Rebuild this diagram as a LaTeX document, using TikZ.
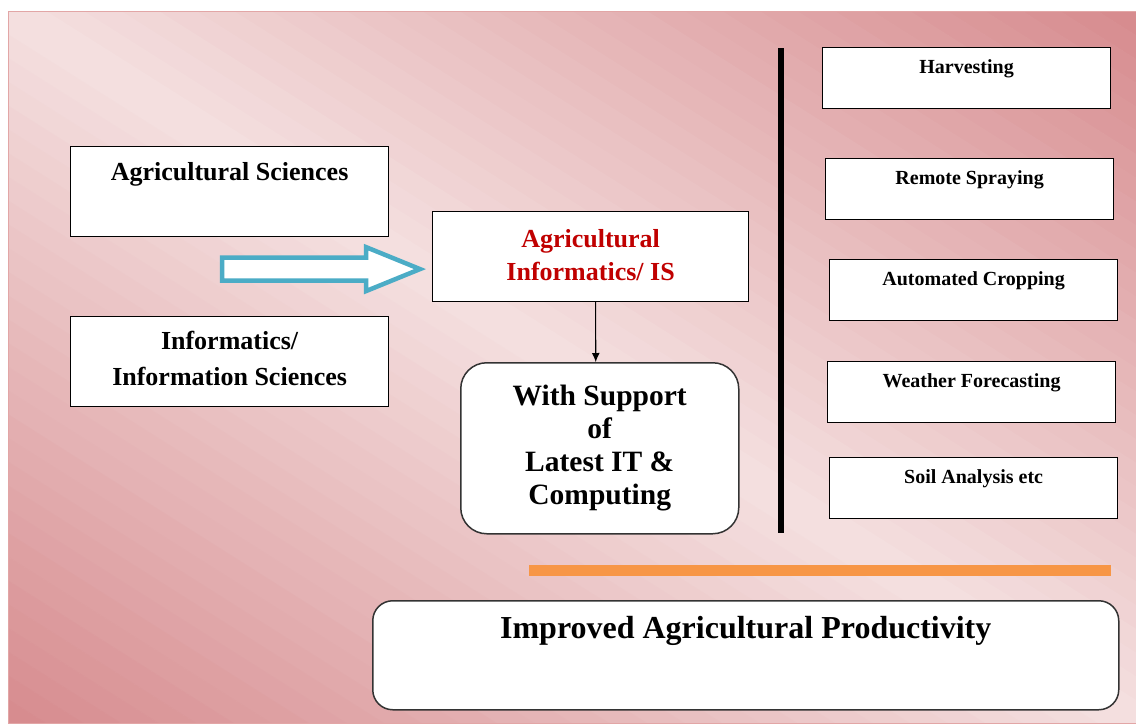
\documentclass[tikz,border=0pt]{standalone}
\usepackage{fontspec}
\setmainfont{Liberation Serif}
\usepackage{tikz}
\usetikzlibrary{positioning, arrows.meta}

\definecolor{bgdark}{RGB}{215,140,143}
\definecolor{bglight}{RGB}{244,224,224}
\definecolor{bgedge}{RGB}{226,166,166}
\definecolor{isred}{RGB}{192,0,0}
\definecolor{arrowblue}{RGB}{75,172,198}
\definecolor{barorange}{RGB}{247,150,70}

\begin{document}
\begin{tikzpicture}[x=1pt, y=-1pt, line join=miter,
    box/.style={draw=black, line width=1.2pt, fill=white, inner sep=0pt, anchor=north west},
    sidebox/.style={box, minimum width=288pt, text height=26pt, text depth=35pt,
        font=\bfseries\fontsize{20}{24}\selectfont},
    leftbox/.style={box, minimum width=318pt, minimum height=90pt, align=center,
        font=\bfseries\fontsize{26}{36}\selectfont},
    roundbox/.style={box, draw=black!80, line width=1.5pt, align=center},
    blockarrow/.style={draw=arrowblue, line width=4.5pt, fill=white}]
            % page and background, banded by hand along the diagonal
             \useasboundingbox (0,0) rectangle (1136,726);
             \coordinate (mid) at (572,367);
             \begin{scope}
               \clip (8,11) rectangle (1136,723);
               \foreach \i in {0,...,59} {
                 \pgfmathtruncatemacro{\mixval}{abs(\i-29.5)/29.5*100}
                 \fill[bgdark!\mixval!bglight, rotate around={-32.3:(mid)}]
                     (-98,{-235+\i*20.07}) rectangle (1242,{-234.5+(\i+1)*20.07});
               }
             \end{scope}
             \draw[bgedge, line width=1pt] (8,11) rectangle (1136,723);
             % inputs on the left
             \node[leftbox, text height=34pt, text depth=56pt] (agsci) at (70,146) {Agricultural Sciences};
             \node[leftbox] (infsci) at (70,316) {Informatics/\\Information Sciences\rule[-6pt]{0pt}{0pt}};
             % the merged field
             \node[leftbox, minimum width=316pt, text=isred,
                 font=\bfseries\fontsize{26}{33}\selectfont] (agri) at (432,211) {Agricultural\\Informatics/ IS\rule[-4pt]{0pt}{0pt}};
             \node[roundbox, rounded corners=26pt, minimum width=278pt, minimum height=171pt,
                 font=\bfseries\fontsize{29.5}{33}\selectfont] (support) at (460,362) {With Support\\of\\Latest IT \&\\Computing\rule[-6pt]{0pt}{0pt}};
             % big hollow arrow into the merged field
             \coordinate (tip) at ([xshift=-12pt, yshift=-12.5pt]agri.west);
             \draw[blockarrow] (tip) -- ++(-54,-22) -- ++(0,10.5) -- ++(-144,0) -- ++(0,23)
                 -- ++(144,0) -- ++(0,10.5) -- cycle;
             \draw[-{Latex[length=9pt, width=8pt]}, line width=1.1pt] ([xshift=5pt]agri.south) -- ([xshift=-4pt]support.north);
             % divider and applications
             \draw[line width=6pt] (781,48) -- (781,533);
             \node[sidebox] (harvest) at (822,47) {Harvesting};
             \node[sidebox] (spray) at (825,158) {Remote Spraying};
             \node[sidebox] (crop) at (829,259) {Automated Cropping};
             \node[sidebox] (weather) at (827,361) {Weather Forecasting};
             \node[sidebox] (soil) at (829,457) {Soil Analysis etc};
             % result
             \draw[barorange, line width=11pt] (529,570) -- (1111,570);
             \node[roundbox, rounded corners=20pt, minimum width=746pt, text height=38pt, text depth=71pt,
                 font=\bfseries\fontsize{32}{36}\selectfont] (result) at (372,600) {Improved Agricultural Productivity};
     \end{tikzpicture}
\end{document}
